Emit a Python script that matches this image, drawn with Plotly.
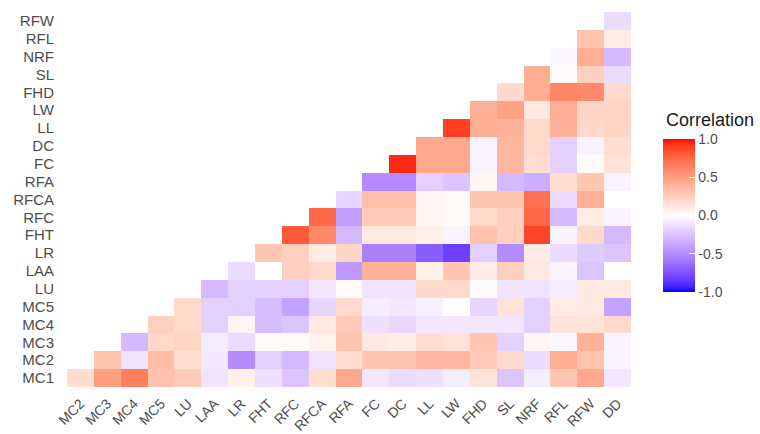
import plotly.graph_objects as go

rows = ["MC1", "MC2", "MC3", "MC4", "MC5", "LU", "LAA", "LR", "FHT", "RFC", "RFCA",
        "RFA", "FC", "DC", "LL", "LW", "FHD", "SL", "NRF", "RFL", "RFW"]
cols = ["MC2", "MC3", "MC4", "MC5", "LU", "LAA", "LR", "FHT", "RFC", "RFCA", "RFA",
        "FC", "DC", "LL", "LW", "FHD", "SL", "NRF", "RFL", "RFW", "DD"]

# each row lists correlations from its first (diagonal) column to DD
r_MC1 = [0.18, 0.50, 0.65, 0.32, 0.28, -0.12, 0.08, -0.13, -0.25, 0.18, 0.45,
         -0.10, -0.15, -0.13, -0.08, 0.15, -0.25, -0.08, 0.30, 0.45, -0.10]
r_MC2 = [0.32, -0.12, 0.35, 0.18, -0.10, -0.50, -0.20, -0.30, -0.12, 0.18,
         0.30, 0.30, 0.38, 0.38, 0.27, 0.20, -0.15, 0.42, 0.32, -0.05]
r_MC3 = [-0.30, 0.20, 0.22, -0.08, -0.15, 0.02, 0.03, 0.06, 0.30,
         0.12, 0.10, 0.18, 0.15, 0.30, -0.20, 0.05, -0.03, 0.40, -0.05]
r_MC4 = [0.25, 0.20, -0.20, 0.05, -0.28, -0.25, 0.12, 0.28,
         -0.13, -0.17, -0.10, -0.10, -0.10, -0.10, -0.20, 0.15, 0.15, 0.20]
r_MC5 = [0.20, -0.20, -0.20, -0.28, -0.40, -0.18, 0.20,
         -0.08, -0.10, -0.06, 0.00, -0.18, 0.15, -0.20, 0.10, 0.12, -0.40]
r_LU = [-0.30, -0.20, -0.20, -0.20, -0.10, 0.03,
        -0.12, -0.12, 0.20, 0.20, 0.02, -0.12, -0.12, -0.08, 0.12, 0.12]
r_LAA = [-0.15, 0.00, 0.25, 0.20, -0.45,
         0.40, 0.40, 0.08, 0.30, 0.10, 0.25, 0.12, -0.05, -0.25, 0.00]
r_LR = [0.30, 0.25, 0.10, 0.22,
        -0.55, -0.55, -0.70, -0.82, -0.20, -0.50, 0.10, -0.15, -0.22, -0.25]
r_FHT = [0.80, 0.60, -0.30,
         0.12, 0.12, 0.08, -0.05, 0.32, 0.25, 0.88, -0.05, 0.20, -0.30]
r_RFC = [0.75, -0.42,
         0.28, 0.28, 0.05, 0.03, 0.20, 0.25, 0.75, -0.30, 0.10, -0.05]
r_RFCA = [-0.18,
          0.33, 0.33, 0.05, 0.03, 0.30, 0.30, 0.70, -0.15, 0.42, 0.00]
r_RFA = [-0.50, -0.50, -0.20, -0.25, 0.05, -0.30, -0.35, 0.18, 0.30, -0.05]
r_FC = [0.95, 0.45, 0.45, -0.05, 0.38, 0.18, -0.20, 0.02, 0.15]
r_DC = [0.45, 0.45, -0.05, 0.38, 0.20, -0.20, -0.05, 0.18]
r_LL = [0.90, 0.42, 0.40, 0.20, 0.40, 0.20, 0.22]
r_LW = [0.42, 0.48, 0.12, 0.42, 0.22, 0.22]
r_FHD = [0.20, 0.42, 0.62, 0.60, 0.20]
r_SL = [0.42, 0.02, 0.25, -0.15]
r_NRF = [-0.03, 0.42, -0.30]
r_RFL = [0.32, 0.10]
r_RFW = [-0.15]

row_values = [r_MC1, r_MC2, r_MC3, r_MC4, r_MC5, r_LU, r_LAA, r_LR, r_FHT, r_RFC,
              r_RFCA, r_RFA, r_FC, r_DC, r_LL, r_LW, r_FHD, r_SL, r_NRF, r_RFL, r_RFW]

tick_vals = [-1.0, -0.5, 0.0, 0.5, 1.0]
tick_text = ["-1.0", "-0.5", "0.0", "0.5", "1.0"]
legend_title = "Correlation"

z = []
for i, vals in enumerate(row_values):
    z.append([None] * i + list(vals))


# ---- blue-white-red gradient interpolated in CIE Lab (like ggplot2 gradient2)
def _to_lin(c):
    c = c / 255.0
    return c / 12.92 if c <= 0.04045 else ((c + 0.055) / 1.055) ** 2.4


def _to_srgb(c):
    c = min(max(c, 0.0), 1.0)
    v = 12.92 * c if c <= 0.0031308 else 1.055 * c ** (1 / 2.4) - 0.055
    return int(round(v * 255))


def rgb_to_lab(rgb):
    r, g, b = [_to_lin(c) for c in rgb]
    X = 0.4124 * r + 0.3576 * g + 0.1805 * b
    Y = 0.2126 * r + 0.7152 * g + 0.0722 * b
    Z = 0.0193 * r + 0.1192 * g + 0.9505 * b

    def f(t):
        return t ** (1 / 3) if t > 0.008856 else 7.787 * t + 16 / 116

    fx, fy, fz = f(X / 0.95047), f(Y), f(Z / 1.08883)
    return (116 * fy - 16, 500 * (fx - fy), 200 * (fy - fz))


def lab_to_rgb(lab):
    L, a, b = lab
    fy = (L + 16) / 116
    fx = fy + a / 500
    fz = fy - b / 200

    def finv(t):
        return t ** 3 if t ** 3 > 0.008856 else (t - 16 / 116) / 7.787

    X = 0.95047 * finv(fx)
    Y = finv(fy)
    Z = 1.08883 * finv(fz)
    r = 3.2406 * X - 1.5372 * Y - 0.4986 * Z
    g = -0.9689 * X + 1.8758 * Y + 0.0415 * Z
    bb = 0.0557 * X - 0.2040 * Y + 1.0570 * Z
    return (_to_srgb(r), _to_srgb(g), _to_srgb(bb))


low = rgb_to_lab((0, 0, 255))
mid = rgb_to_lab((255, 255, 255))
high = rgb_to_lab((255, 0, 0))
colorscale = []
N = 40
for k in range(N + 1):
    t = k / N
    v = -1 + 2 * t
    if v < 0:
        f = 1 + v
        lab = tuple(low[q] + (mid[q] - low[q]) * f for q in range(3))
    else:
        f = v
        lab = tuple(mid[q] + (high[q] - mid[q]) * f for q in range(3))
    r, g, b = lab_to_rgb(lab)
    colorscale.append([t, f"rgb({r},{g},{b})"])

font_family = "Liberation Sans, Arial, sans-serif"

fig = go.Figure(
    go.Heatmap(
        z=z,
        x=cols,
        y=rows,
        zmin=-1,
        zmax=1,
        colorscale=colorscale,
        hoverongaps=False,
        xgap=0,
        ygap=0,
        colorbar=dict(
            x=1.0567,
            xanchor="left",
            y=0.4573,
            yanchor="middle",
            len=0.408,
            lenmode="fraction",
            thickness=32,
            thicknessmode="pixels",
            outlinewidth=0,
            xpad=0,
            ypad=0,
            tickvals=tick_vals,
            ticktext=tick_text,
            ticks="inside",
            ticklen=6,
            tickcolor="white",
            tickwidth=1,
            tickfont=dict(size=14, color="#4D4D4D", family=font_family),
        ),
    )
)

fig.add_annotation(
    text=legend_title,
    xref="paper", yref="paper",
    x=1.0585, y=0.712,
    xanchor="left", yanchor="middle",
    showarrow=False,
    font=dict(size=18, color="#1a1a1a", family=font_family),
)

fig.update_layout(
    width=760,
    height=434,
    margin=dict(l=67, r=129, t=12, b=47, autoexpand=False),
    paper_bgcolor="white",
    plot_bgcolor="white",
    font=dict(family=font_family),
)
fig.update_xaxes(
    categoryorder="array", categoryarray=cols,
    tickmode="array", tickvals=cols, ticktext=cols,
    automargin=False,
    showgrid=False, zeroline=False, showline=False,
    tickangle=-45, ticks="outside", ticklen=2, tickcolor="rgba(0,0,0,0)",
    tickfont=dict(size=14, color="#4D4D4D", family=font_family),
)
fig.update_yaxes(
    categoryorder="array", categoryarray=rows,
    tickmode="array", tickvals=rows, ticktext=rows,
    automargin=False,
    showgrid=False, zeroline=False, showline=False,
    ticks="outside", ticklen=9, tickcolor="rgba(0,0,0,0)",
    tickfont=dict(size=15, color="#4D4D4D", family=font_family),
)

fig.write_html(
    "out.html",
    config={"displayModeBar": False},
    post_script="document.body.style.margin='0';document.body.style.padding='0';",
)
